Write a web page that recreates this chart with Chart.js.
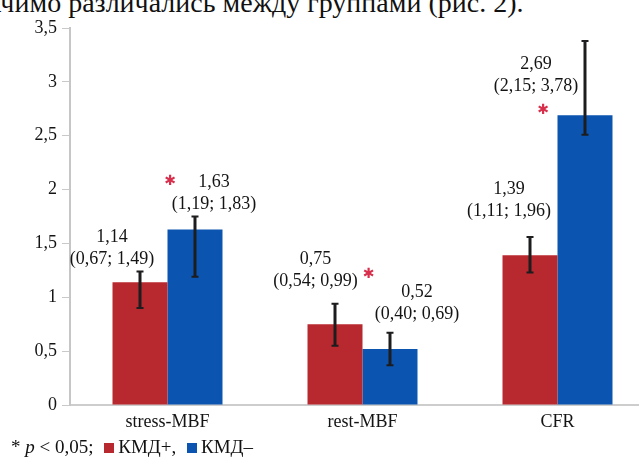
<!DOCTYPE html>
<html>
<head>
<meta charset="utf-8">
<script src="https://cdn.jsdelivr.net/npm/chart.js@4/dist/chart.umd.min.js"></script>
<style>
  html, body { margin: 0; padding: 0; background: #fff; overflow: hidden; width: 639px; height: 460px; }
  #wrap { position: relative; width: 639px; height: 460px; overflow: hidden; background: #fff; }
  #lead { position: absolute; left: -37px; top: -11px; font: 28px "Liberation Serif", serif; line-height: 28px; white-space: nowrap; color: #111; }
  #box { position: absolute; left: 0; top: 0; width: 660px; height: 440px; }
  #key { position: absolute; left: 11px; top: 436px; font: 19px "Liberation Serif", serif; line-height: 22px; color: #111; white-space: nowrap; }
  .sw { display: inline-block; width: 10px; height: 10px; margin: 0 4px 0 6px; }
</style>
</head>
<body>
<div id="wrap">
  <div id="lead">значимо различались между группами (рис. 2).</div>
  <div id="box"><canvas id="c" width="660" height="440"></canvas></div>
  <div id="key">* <i>p</i> &lt; 0,05; <span class="sw" style="background:#b8282f"></span>КМД+, <span class="sw" style="background:#0b55b0"></span>КМД–</div>
</div>
<script>
// Groups and medians (IQR in brackets) for patients with / without CMD
const categories = ['stress-MBF', 'rest-MBF', 'CFR'];
const kmdPlus  = [1.14, 0.75, 1.39];
const kmdMinus = [1.63, 0.52, 2.69];
const iqrPlus  = [[0.67, 1.49], [0.54, 0.99], [1.11, 1.96]];
const iqrMinus = [[1.19, 1.83], [0.40, 0.69], [2.15, 3.78]];
// whisker ends drawn on each bar
const errPlus  = [[0.90, 1.24], [0.55, 0.94], [1.23, 1.56]];
const errMinus = [[1.19, 1.75], [0.37, 0.67], [2.51, 3.38]];
const significant = [true, true, true];
const yTicks = [0, 0.5, 1, 1.5, 2, 2.5, 3, 3.5];

const RED = '#b8282f';
const BLUE = '#0b55b0';
const SERIF = '"Liberation Serif", "Times New Roman", serif';

// where the value captions and asterisks sit: horizontal shift from the group centre (px), height in axis units
const captionPlus  = [{ dx: -55.5, v: 1.56 }, { dx: -47, v: 1.35 }, { dx: -48.5, v: 2.00 }];
const captionMinus = [{ dx: 46.5, v: 2.07 }, { dx: 54.5, v: 1.05 }, { dx: -21.5, v: 3.16 }];
const starPlace    = [{ dx: 2.5, v: 2.08 }, { dx: 6, v: 1.21 }, { dx: -14.5, v: 2.74 }];

const fmt = v => v.toFixed(2).replace('.', ',');

const annotations = {
  id: 'annotations',
  afterDatasetsDraw(chart) {
    const ctx = chart.ctx;
    const x = chart.scales.x, y = chart.scales.y;
    const series = [
      { err: errPlus,  med: kmdPlus,  iqr: iqrPlus,  cap: captionPlus },
      { err: errMinus, med: kmdMinus, iqr: iqrMinus, cap: captionMinus }
    ];
    ctx.save();
    // whiskers
    series.forEach((s, d) => {
      const meta = chart.getDatasetMeta(d);
      meta.data.forEach((bar, i) => {
        const yl = y.getPixelForValue(s.err[i][0]);
        const yh = y.getPixelForValue(s.err[i][1]);
        ctx.strokeStyle = '#1d1d1f';
        ctx.lineWidth = 3;
        ctx.beginPath(); ctx.moveTo(bar.x, yl); ctx.lineTo(bar.x, yh); ctx.stroke();
        ctx.lineWidth = 2;
        ctx.beginPath();
        ctx.moveTo(bar.x - 3.5, yl); ctx.lineTo(bar.x + 3.5, yl);
        ctx.moveTo(bar.x - 3.5, yh); ctx.lineTo(bar.x + 3.5, yh);
        ctx.stroke();
      });
    });
    // captions: median and (Q1; Q3)
    ctx.fillStyle = '#141414';
    ctx.font = '18px ' + SERIF;
    ctx.textAlign = 'center';
    ctx.textBaseline = 'middle';
    series.forEach(s => {
      categories.forEach((c, i) => {
        const cx = x.getPixelForValue(i) + s.cap[i].dx;
        const cy = y.getPixelForValue(s.cap[i].v);
        ctx.fillText(fmt(s.med[i]), cx, cy);
        ctx.fillText('(' + fmt(s.iqr[i][0]) + '; ' + fmt(s.iqr[i][1]) + ')', cx, cy + 22);
      });
    });
    // significance marks
    ctx.fillStyle = '#d8304c';
    ctx.font = 'bold 14px "DejaVu Sans", sans-serif';
    categories.forEach((c, i) => {
      if (!significant[i]) return;
      ctx.fillText('✱', x.getPixelForValue(i) + starPlace[i].dx, y.getPixelForValue(starPlace[i].v));
    });
    ctx.restore();
  }
};

new Chart(document.getElementById('c'), {
  type: 'bar',
  data: {
    labels: categories,
    datasets: [
      { label: 'КМД+', data: kmdPlus, backgroundColor: RED, borderWidth: 0, barPercentage: 1, categoryPercentage: 0.564 },
      { label: 'КМД–', data: kmdMinus, backgroundColor: BLUE, borderWidth: 0, barPercentage: 1, categoryPercentage: 0.564 }
    ]
  },
  options: {
    responsive: false,
    animation: false,
    devicePixelRatio: 1,
    layout: { padding: { top: 28, left: 0, right: 5, bottom: 0 } },
    plugins: { legend: { display: false }, tooltip: { enabled: false } },
    scales: {
      x: {
        grid: { display: false, drawTicks: false },
        border: { display: true, color: '#cdcdcd', width: 2 },
        ticks: { color: '#141414', font: { family: SERIF, size: 18 }, padding: 6 },
        afterFit(scale) { scale.height = 35; }
      },
      y: {
        min: 0,
        max: 3.5,
        afterBuildTicks(scale) { scale.ticks = yTicks.map(v => ({ value: v })); },
        grid: { drawOnChartArea: false, drawTicks: true, tickLength: 8, color: '#c9c9c9', lineWidth: 1 },
        border: { display: true, color: '#c6c6c6', width: 2 },
        ticks: {
          color: '#141414',
          font: { family: SERIF, size: 18 },
          padding: 5,
          callback: v => String(v).replace('.', ',')
        },
        afterFit(scale) { scale.width = 70; }
      }
    }
  },
  plugins: [annotations]
});
</script>
</body>
</html>
